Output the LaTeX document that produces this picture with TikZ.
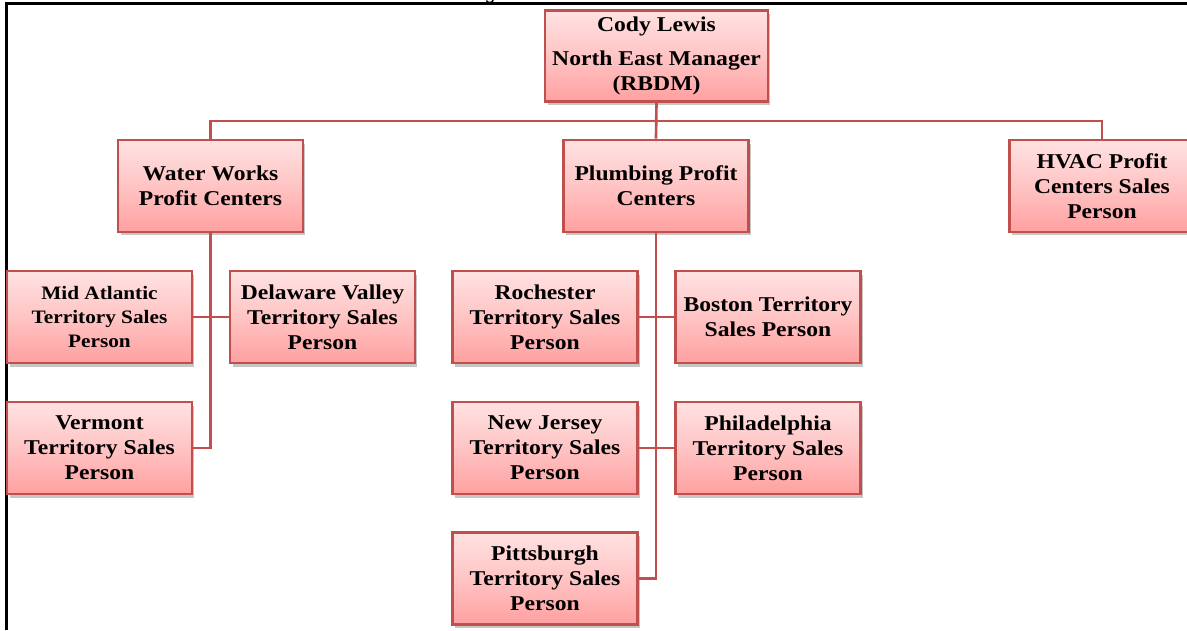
\documentclass[tikz,border=0pt]{standalone}
\usepackage{fontspec}
\setmainfont[FakeStretch=1.12]{Liberation Serif}
\newfontfamily\capfont{Liberation Sans}
\usetikzlibrary{positioning,shadows}

\definecolor{boxred}{HTML}{C0504D}
\definecolor{pinktop}{HTML}{FFE2E2}
\definecolor{pinkmid}{HTML}{FFC4C4}
\definecolor{pinkbot}{HTML}{FFA0A0}

\tikzset{
  unitbox/.style={draw=boxred, line width=1.5pt, top color=pinktop, bottom color=pinkbot,
    middle color=pinkmid, minimum width=3.7cm, minimum height=1.84cm, align=center,
    inner sep=1pt, font=\bfseries\fontsize{12}{14.2}\selectfont,
    drop shadow={shadow xshift=0.05cm, shadow yshift=-0.07cm, fill=black!50, opacity=0.45}},
  link/.style={draw=boxred, line width=1.5pt},
}

\begin{document}
\begin{tikzpicture}[x=0.02cm, y=-0.02cm]
  \useasboundingbox (0,0) rectangle (1187,630);
  \clip (0,0) rectangle (1187,630);

  % Page frame
  \node[font=\capfont\fontsize{11}{13}\selectfont, anchor=base, inner sep=0pt] (capg) at (490,-1) {g};
  \draw[line width=1.4pt] (6.5,630) -- (6.5,3.5) -- (1187,3.5);

  % Manager
  \node[unitbox, minimum width=4.46cm, minimum height=1.82cm] (boss) at (656.5,56)
    {Cody Lewis\\[5pt]North East Manager\\(RBDM)};

  % Profit centers
  \node[unitbox] (water) at (210.5,186) {Water Works\\Profit Centers};
  \node[unitbox] (plumb) at (656,186) {Plumbing Profit\\Centers};
  \node[unitbox] (hvac) at (1102,186) {HVAC Profit\\Centers Sales\\Person};

  % Water works territories
  \node[unitbox, font=\bfseries\fontsize{10.8}{13.6}\selectfont] (midatl) at (99.5,317)
    {Mid Atlantic\\Territory Sales\\Person};
  \node[unitbox] (delval) at (322.5,317) {Delaware Valley\\Territory Sales\\Person};
  \node[unitbox] (vermont) at (99.5,448) {Vermont\\Territory Sales\\Person};

  % Plumbing territories
  \node[unitbox] (roch) at (545,317) {Rochester\\Territory Sales\\Person};
  \node[unitbox] (boston) at (768,317) {Boston Territory\\Sales Person};
  \node[unitbox] (newjer) at (545,448) {New Jersey\\Territory Sales\\Person};
  \node[unitbox] (phila) at (768,448) {Philadelphia\\Territory Sales\\Person};
  \node[unitbox] (pitts) at (545,578.5) {Pittsburgh\\Territory Sales\\Person};

  % Connectors
  \coordinate (bus) at (656,121);
  \draw[link] (boss.south) -- (plumb.north);
  \draw[link] (water.north) |- (bus) -| (hvac.north);
  \draw[link] (water.south) |- (vermont.east);
  \draw[link] (midatl.east) -- (delval.west);
  \draw[link] (plumb.south) |- (pitts.east);
  \draw[link] (roch.east) -- (boston.west);
  \draw[link] (newjer.east) -- (phila.west);
\end{tikzpicture}
\end{document}
